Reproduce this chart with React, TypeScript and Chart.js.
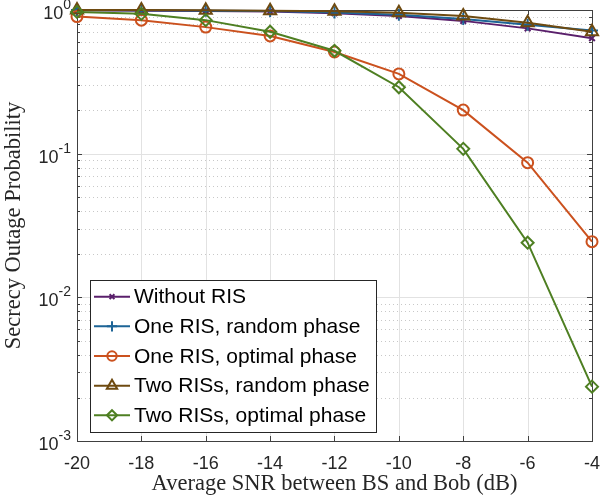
import { useEffect, useRef } from 'react';
import { Chart, registerables } from 'chart.js';
import { drawPoint } from 'chart.js/helpers';

Chart.register(...registerables);

const snr = [-20, -18, -16, -14, -12, -10, -8, -6, -4];
const withoutRIS = [0.995, 0.99, 0.985, 0.975, 0.95, 0.91, 0.84, 0.745, 0.636];
const oneRisRandom = [1.0, 0.995, 0.99, 0.985, 0.96, 0.925, 0.865, 0.79, 0.72];
const oneRisOptimal = [0.9, 0.85, 0.76, 0.66, 0.51, 0.359, 0.201, 0.0866, 0.0244];
const twoRisRandom = [1.0, 1.0, 0.995, 0.99, 0.98, 0.955, 0.91, 0.815, 0.706];
const twoRisOptimal = [0.97, 0.94, 0.85, 0.706, 0.52, 0.29, 0.108, 0.024, 0.00239];

const seriesNames = [
  'Without RIS',
  'One RIS, random phase',
  'One RIS, optimal phase',
  'Two RISs, random phase',
  'Two RISs, optimal phase',
];
const seriesValues = [withoutRIS, oneRisRandom, oneRisOptimal, twoRisRandom, twoRisOptimal];
const seriesColors = ['#5A1F6B', '#1D6496', '#CB511E', '#6E4A10', '#4E7F22'];
const seriesMarkers = ['crossRot', 'cross', 'circle', 'triangle', 'rectRot'];
const markerSizes = [4, 6, 5.5, 7, 6];

const xTicks = [-20, -18, -16, -14, -12, -10, -8, -6, -4];
const yDecades = [-3, -2, -1, 0];

const xTitle = 'Average SNR between BS and Bob (dB)';
const yTitle = 'Secrecy Outage Probability';

const AXIS_COLOR = '#404040';

const axesPlugin = {
  id: 'matlabAxes',
  beforeDatasetsDraw(chart: any) {
    const { ctx, chartArea: a, scales } = chart;
    const x = scales.x;
    const y = scales.y;
    ctx.save();
    ctx.lineWidth = 1;
    // minor grid (dotted)
    ctx.strokeStyle = '#c8c8c8';
    ctx.setLineDash([1, 3]);
    for (let d = yDecades[0]; d < yDecades[yDecades.length - 1]; d++) {
      for (let k = 2; k <= 9; k++) {
        const py = Math.round(y.getPixelForValue(k * Math.pow(10, d))) + 0.5;
        ctx.beginPath();
        ctx.moveTo(a.left, py);
        ctx.lineTo(a.right, py);
        ctx.stroke();
      }
    }
    ctx.setLineDash([]);
    // major grid
    ctx.strokeStyle = '#e2e2e2';
    for (const d of yDecades) {
      const py = Math.round(y.getPixelForValue(Math.pow(10, d))) + 0.5;
      ctx.beginPath();
      ctx.moveTo(a.left, py);
      ctx.lineTo(a.right, py);
      ctx.stroke();
    }
    for (const t of xTicks) {
      const px = Math.round(x.getPixelForValue(t)) + 0.5;
      ctx.beginPath();
      ctx.moveTo(px, a.top);
      ctx.lineTo(px, a.bottom);
      ctx.stroke();
    }
    // frame
    ctx.strokeStyle = AXIS_COLOR;
    ctx.strokeRect(Math.round(a.left) + 0.5, Math.round(a.top) + 0.5, Math.round(a.right - a.left), Math.round(a.bottom - a.top));
    // ticks
    ctx.beginPath();
    for (const t of xTicks) {
      const px = Math.round(x.getPixelForValue(t)) + 0.5;
      ctx.moveTo(px, a.bottom);
      ctx.lineTo(px, a.bottom - 5);
      ctx.moveTo(px, a.top);
      ctx.lineTo(px, a.top + 5);
    }
    for (let d = yDecades[0]; d <= yDecades[yDecades.length - 1]; d++) {
      for (let k = 1; k <= 9; k++) {
        if (d === yDecades[yDecades.length - 1] && k > 1) break;
        const py = Math.round(y.getPixelForValue(k * Math.pow(10, d))) + 0.5;
        const len = k === 1 ? 5 : 3;
        ctx.moveTo(a.left, py);
        ctx.lineTo(a.left + len, py);
        ctx.moveTo(a.right, py);
        ctx.lineTo(a.right - len, py);
      }
    }
    ctx.stroke();
    // y tick labels 10^n
    ctx.fillStyle = '#262626';
    ctx.textBaseline = 'middle';
    ctx.textAlign = 'right';
    for (const d of yDecades) {
      const py = y.getPixelForValue(Math.pow(10, d));
      const sup = String(d);
      ctx.font = '14px "Liberation Sans", Arial, sans-serif';
      const supRight = a.left - 6;
      const supW = ctx.measureText(sup).width;
      ctx.fillText(sup, supRight, py - 5);
      ctx.font = '18px "Liberation Sans", Arial, sans-serif';
      ctx.fillText('10', supRight - supW, py + 4);
    }
    ctx.restore();
  },
  afterDatasetsDraw(chart: any) {
    const { ctx } = chart;
    ctx.save();
    const bx = 90;
    const by = 280;
    const bw = 286;
    const bh = 152;
    ctx.fillStyle = '#ffffff';
    ctx.fillRect(bx, by, bw, bh);
    ctx.strokeStyle = '#262626';
    ctx.lineWidth = 1;
    ctx.strokeRect(bx + 0.5, by + 0.5, bw, bh);
    const rowH = 29.65;
    ctx.font = '21px "Liberation Sans", Arial, sans-serif';
    ctx.textBaseline = 'middle';
    ctx.textAlign = 'left';
    seriesNames.forEach((name, i) => {
      const ry = by + 16.7 + i * rowH;
      ctx.strokeStyle = seriesColors[i];
      ctx.lineWidth = 2;
      ctx.beginPath();
      ctx.moveTo(94, ry);
      ctx.lineTo(130, ry);
      ctx.stroke();
      ctx.fillStyle = 'rgba(0,0,0,0)';
      drawPoint(ctx, { pointStyle: seriesMarkers[i], radius: markerSizes[i] * 0.85, borderWidth: 2, rotation: 0 } as any, 112, ry);
      ctx.fillStyle = '#000000';
      ctx.fillText(name, 134, ry + 1);
    });
    ctx.restore();
  },
};

export default function App() {
  const canvasRef = useRef<HTMLCanvasElement | null>(null);

  useEffect(() => {
    const canvas = canvasRef.current;
    if (!canvas) return;
    const datasets = seriesNames.map((name, i) => ({
      label: name,
      data: snr.map((s, j) => ({ x: s, y: seriesValues[i][j] })),
      borderColor: seriesColors[i],
      backgroundColor: 'rgba(0,0,0,0)',
      borderWidth: 2,
      pointStyle: seriesMarkers[i],
      pointRadius: markerSizes[i],
      pointBorderWidth: 2,
      pointBorderColor: seriesColors[i],
      pointBackgroundColor: 'rgba(0,0,0,0)',
      tension: 0,
      clip: false as any,
      order: seriesNames.length - i,
    }));
    const chart = new Chart(canvas, {
      type: 'line',
      data: { datasets },
      options: {
        animation: false,
        responsive: false,
        devicePixelRatio: 1,
        layout: { padding: { left: 0, right: 9, top: 10, bottom: 0 } },
        plugins: { legend: { display: false }, tooltip: { enabled: false } },
        elements: { line: { fill: false } },
        scales: {
          x: {
            type: 'linear',
            min: -20,
            max: -4,
            afterBuildTicks: (scale: any) => {
              scale.ticks = xTicks.map((v) => ({ value: v }));
            },
            afterFit: (scale: any) => {
              scale.height = 58;
            },
            grid: { display: false, drawTicks: false, tickLength: 0 },
            border: { display: false },
            ticks: {
              padding: 12,
              color: '#262626',
              font: { family: '"Liberation Sans", Arial, sans-serif', size: 18 },
              maxRotation: 0,
              autoSkip: false,
            },
            title: {
              display: true,
              text: xTitle,
              color: '#262626',
              font: { family: '"Liberation Serif", "Times New Roman", serif', size: 22.5 },
              padding: { top: 0, bottom: 1 },
            },
          },
          y: {
            type: 'logarithmic',
            min: 0.001,
            max: 1,
            afterFit: (scale: any) => {
              scale.width = 77;
            },
            grid: { display: false, drawTicks: false, tickLength: 0 },
            border: { display: false },
            ticks: { display: false },
            title: {
              display: true,
              text: yTitle,
              color: '#262626',
              font: { family: '"Liberation Serif", "Times New Roman", serif', size: 22.5 },
              padding: { top: 1, bottom: 0 },
            },
          },
        },
      },
      plugins: [axesPlugin],
    });
    return () => chart.destroy();
  }, []);

  return (
    <div style={{ position: 'fixed', left: 0, top: 0, width: 612, height: 499, background: '#ffffff' }}>
      <canvas ref={canvasRef} width={612} height={499} style={{ width: 612, height: 499, display: 'block' }} />
    </div>
  );
}
